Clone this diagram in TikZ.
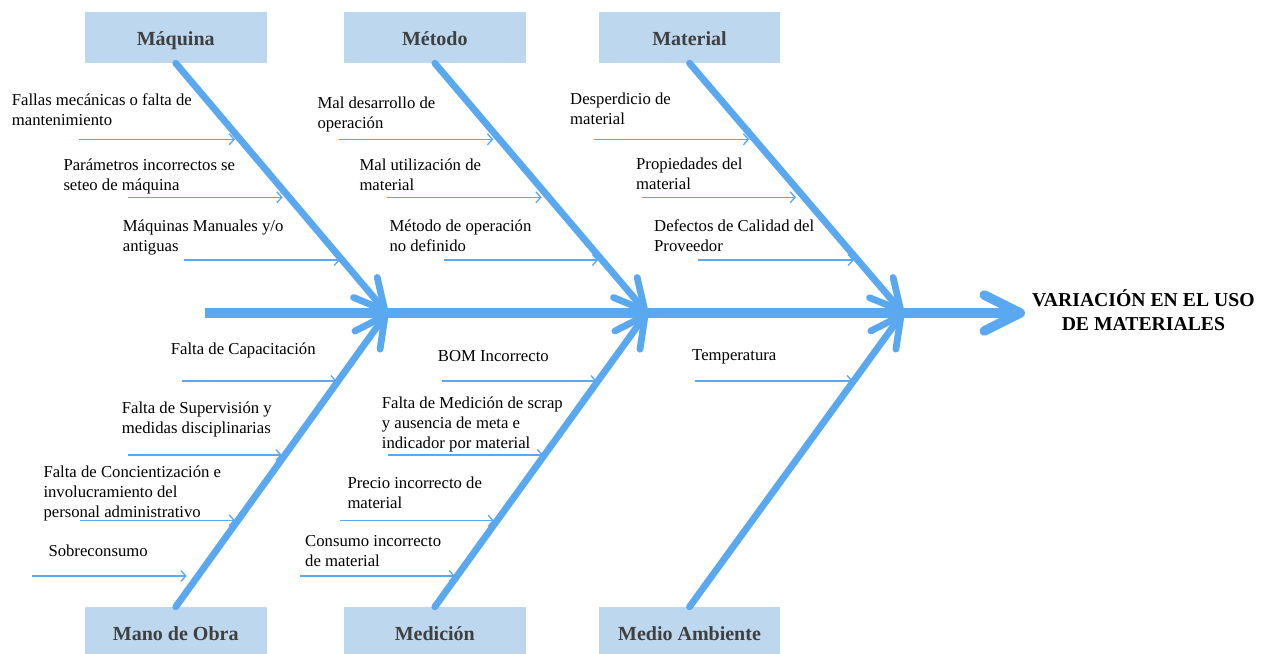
\documentclass[tikz,border=0pt]{standalone}
\usepackage{fontspec}
\setmainfont{Liberation Serif}
\usetikzlibrary{arrows.meta}

\definecolor{bone}{HTML}{5AA9F0}
\definecolor{boxfill}{HTML}{BDD7EE}
\definecolor{boxtext}{HTML}{404040}

% multi-line text whose baseline is the baseline of its first line
\newcommand{\ml}[1]{\begin{tabular}[t]{@{}l@{}}#1\end{tabular}}

\tikzset{
  catbox/.style={fill=boxfill, minimum width=181.5pt, minimum height=51pt,
    inner sep=0pt, text=boxtext, font=\fontsize{20}{24}\selectfont\bfseries,
    text height=15pt, text depth=0pt},
  bonearrow/.style={draw=bone, line width=6.8pt, line cap=round,
    -{Straight Barb[length=30pt,width=31pt,round]}},
  spinearrow/.style={draw=bone, line width=9.5pt,
    -{Straight Barb[length=36pt,width=36pt,round]}},
  subarrow/.style={draw=bone, line width=1.3pt,
    -{Straight Barb[length=5pt,width=11pt]}},
  cause/.style={anchor=base west, inner sep=0pt,
    font=\fontsize{16.7}{20}\selectfont},
}

\begin{document}
\begin{tikzpicture}[x=1pt,y=-1pt]
\clip (0,0) rectangle (1263,653);
\fill[white] (0,0) rectangle (1263,653);

% spine and junctions
\coordinate (tail) at (205,313);
\coordinate (head) at (1025,313);
\coordinate (j1) at (387,313);
\coordinate (j2) at (647,313);
\coordinate (j3) at (903,313);

% category boxes
\node[catbox] (maq) at (175.75,37.5) {Máquina};
\node[catbox] (met) at (434.8,37.5) {Método};
\node[catbox] (mat) at (689.5,37.5) {Material};
\node[catbox] (mo)  at (175.75,632.5) {Mano de Obra};
\node[catbox] (med) at (434.8,632.5) {Medición};
\node[catbox] (ma)  at (689.5,632.5) {Medio Ambiente};

% main bones
\draw[spinearrow] (tail) -- (head);
\draw[bonearrow] (maq.south) -- (j1);
\draw[bonearrow] (met.south) -- (j2);
\draw[bonearrow] (mat.south) -- (j3);
\draw[bonearrow] (mo.north) -- (j1);
\draw[bonearrow] (med.north) -- (j2);
\draw[bonearrow] (ma.north) -- (j3);

% effect
\node[anchor=base west, inner sep=0pt, font=\fontsize{19.7}{24}\selectfont\bfseries] (eff) at (1032,306)
  {\begin{tabular}[t]{@{}c@{}}VARIACIÓN EN EL USO\\DE MATERIALES\end{tabular}};

% --- Máquina
\node[cause] (c11) at (11.7,105) {\ml{Fallas mecánicas o falta de\\mantenimiento}};
\node[cause] (c12) at (63.3,170.5) {\ml{Parámetros incorrectos se\\seteo de máquina}};
\node[cause] (c13) at (122.7,231.7) {\ml{Máquinas Manuales y/o\\antiguas}};
\coordinate (a11) at (79.3,139.3);  \coordinate (b11) at (235,139.3);
\coordinate (a12) at (127.7,197.3); \coordinate (b12) at (282.7,197.3);
\coordinate (a13) at (184.3,260);   \coordinate (b13) at (340,260);
\draw[subarrow] (a11) -- (b11);
\draw[subarrow] (a12) -- (b12);
\draw[subarrow] (a13) -- (b13);

% --- Método
\node[cause] (c21) at (317.3,108.5) {\ml{Mal desarrollo de\\operación}};
\node[cause] (c22) at (359.3,170.7) {\ml{Mal utilización de\\material}};
\node[cause] (c23) at (389.3,231.7) {\ml{Método de operación\\no definido}};
\coordinate (a21) at (339,139.3);   \coordinate (b21) at (493.3,139.3);
\coordinate (a22) at (387.3,197.3); \coordinate (b22) at (541.7,197.3);
\coordinate (a23) at (444.3,260);   \coordinate (b23) at (598.3,260);
\draw[subarrow] (a21) -- (b21);
\draw[subarrow] (a22) -- (b22);
\draw[subarrow] (a23) -- (b23);

% --- Material
\node[cause] (c31) at (570,104) {\ml{Desperdicio de\\material}};
\node[cause] (c32) at (636,169.3) {\ml{Propiedades del\\material}};
\node[cause] (c33) at (654,231.7) {\ml{Defectos de Calidad del\\Proveedor}};
\coordinate (a31) at (594.3,139.3); \coordinate (b31) at (749.3,139.3);
\coordinate (a32) at (641.7,197.3); \coordinate (b32) at (796,197.3);
\coordinate (a33) at (698.3,260);   \coordinate (b33) at (854,260);
\draw[subarrow] (a31) -- (b31);
\draw[subarrow] (a32) -- (b32);
\draw[subarrow] (a33) -- (b33);

% --- Mano de Obra
\node[cause] (c41) at (170.7,354.3) {Falta de Capacitación};
\node[cause] (c42) at (121.7,413.3) {\ml{Falta de Supervisión y\\medidas disciplinarias}};
\node[cause] (c43) at (43.3,477) {\ml{Falta de Concientización e\\involucramiento del\\personal administrativo}};
\node[cause] (c44) at (48.3,556.7) {Sobreconsumo};
\coordinate (a41) at (181.7,381);  \coordinate (b41) at (336.7,381);
\coordinate (a42) at (127.7,455);  \coordinate (b42) at (281.7,455);
\coordinate (a43) at (80,520.3);   \coordinate (b43) at (235,520.3);
\coordinate (a44) at (31.7,576);   \coordinate (b44) at (186.7,576);
\draw[subarrow] (a41) -- (b41);
\draw[subarrow] (a42) -- (b42);
\draw[subarrow] (a43) -- (b43);
\draw[subarrow] (a44) -- (b44);

% --- Medición
\node[cause] (c51) at (437.7,361.7) {BOM Incorrecto};
\node[cause] (c52) at (381.7,408.3) {\ml{Falta de Medición de scrap\\y ausencia de meta e\\indicador por material}};
\node[cause] (c53) at (347.3,488.3) {\ml{Precio incorrecto de\\material}};
\node[cause] (c54) at (305,546.7) {\ml{Consumo incorrecto\\de material}};
\coordinate (a51) at (441.7,381);  \coordinate (b51) at (596.7,381);
\coordinate (a52) at (387.7,455);  \coordinate (b52) at (543.3,455);
\coordinate (a53) at (340,520.7);  \coordinate (b53) at (494,520.7);
\coordinate (a54) at (300,576);    \coordinate (b54) at (455,576);
\draw[subarrow] (a51) -- (b51);
\draw[subarrow] (a52) -- (b52);
\draw[subarrow] (a53) -- (b53);
\draw[subarrow] (a54) -- (b54);

% --- Medio Ambiente
\node[cause] (c61) at (692,360) {Temperatura};
\coordinate (a61) at (695,381); \coordinate (b61) at (853,381);
\draw[subarrow] (a61) -- (b61);
\end{tikzpicture}
\end{document}
